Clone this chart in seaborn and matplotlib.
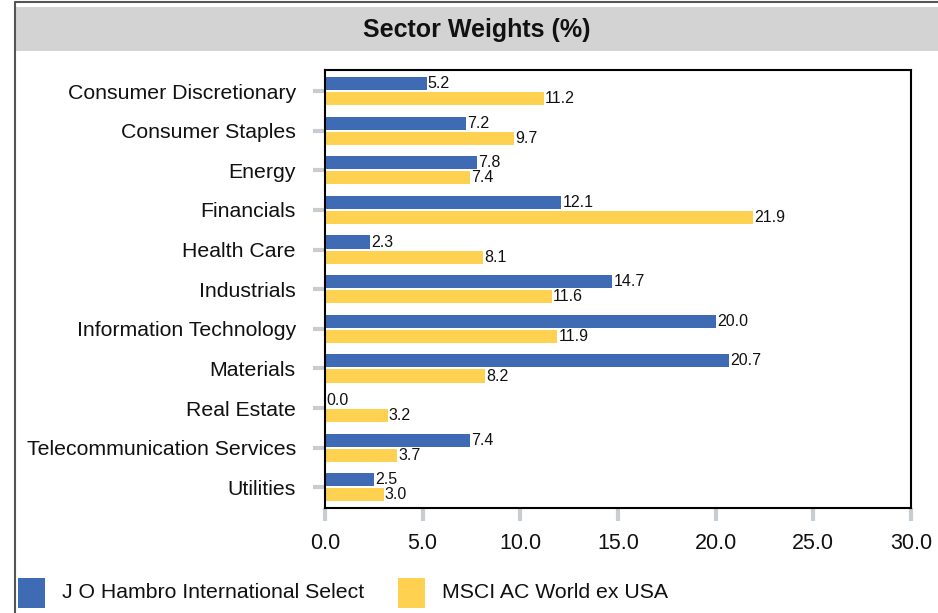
import matplotlib
matplotlib.use("Agg")
import matplotlib.pyplot as plt
import seaborn as sns
import pandas as pd
from matplotlib.patches import Rectangle
from matplotlib.lines import Line2D

sectors = ["Consumer Discretionary", "Consumer Staples", "Energy", "Financials",
           "Health Care", "Industrials", "Information Technology", "Materials",
           "Real Estate", "Telecommunication Services", "Utilities"]
fund = [5.2, 7.2, 7.8, 12.1, 2.3, 14.7, 20.0, 20.7, 0.0, 7.4, 2.5]
bench = [11.2, 9.7, 7.4, 21.9, 8.1, 11.6, 11.9, 8.2, 3.2, 3.7, 3.0]
series = ["J O Hambro International Select", "MSCI AC World ex USA"]
xticks = [0, 5, 10, 15, 20, 25, 30]
colors = ["#3F6BB5", "#FFD151"]

df = pd.DataFrame({
    "Sector": sectors * 2,
    "Weight": fund + bench,
    "Series": [series[0]] * len(sectors) + [series[1]] * len(sectors),
})

sns.set_theme(style="white")
plt.rcParams["font.family"] = ["Liberation Sans", "DejaVu Sans"]

W, H = 938, 613
fig = plt.figure(figsize=(W / 100, H / 100), dpi=100)

# Title band and frame
fig.patches.append(Rectangle((15 / W, 1 - 51 / H), 1 - 15 / W, 44 / H,
                             transform=fig.transFigure, facecolor="#D3D3D3",
                             edgecolor="none", zorder=0))
fig.lines.append(Line2D([15 / W, 15 / W], [0, 1 - 2 / H], transform=fig.transFigure,
                        color="#555555", lw=1.5))
fig.lines.append(Line2D([15 / W, 1], [1 - 2 / H, 1 - 2 / H], transform=fig.transFigure,
                        color="#555555", lw=1.5))
fig.text((15 + W) / 2 / W, 1 - 30 / H, "Sector Weights (%)", ha="center", va="center",
         fontsize=18, fontweight="bold", color="#111111")

ax = fig.add_axes([325 / W, 1 - 508 / H, (911 - 325) / W, (508 - 70) / H])
sns.barplot(data=df, y="Sector", x="Weight", hue="Series", orient="h",
            palette=colors, width=0.76, dodge=True, ax=ax, legend=False,
            saturation=1, linewidth=0, edgecolor="none")

for cont in ax.containers:
    for bar in cont:
        h = bar.get_height()
        bar.set_y(bar.get_y() + 0.025)
        bar.set_height(h - 0.05)
        w = bar.get_width()
        ax.text(w + 0.06, bar.get_y() + bar.get_height() / 2, f"{w:.1f}",
                ha="left", va="center", fontsize=11.5, color="#111111")

ax.set_xlim(0, 30)
ax.set_ylim(10.52, -0.53)
ax.set_xticks(xticks)
ax.set_xticklabels([f"{t:.1f}" for t in xticks], fontsize=15.5)
ax.set_yticks(range(len(sectors)))
ax.set_yticklabels(sectors, fontsize=15.3)
ax.set_xlabel("")
ax.set_ylabel("")
ax.tick_params(axis="x", length=9, width=3, color="#C8CDD2", pad=9, labelcolor="#111111")
ax.tick_params(axis="y", length=8.5, width=3, color="#C8CDD2", pad=12.5, labelcolor="#111111")
ax.tick_params(bottom=True, left=True)
for s in ax.spines.values():
    s.set_visible(True)
    s.set_color("black")
    s.set_linewidth(1.5)

# Legend
for i, (name, col) in enumerate(zip(series, colors)):
    x0 = [18, 398][i]
    fig.patches.append(Rectangle((x0 / W, 1 - 608 / H), 27 / W, 30 / H,
                                 transform=fig.transFigure, facecolor=col,
                                 edgecolor="none"))
    fig.text((x0 + 44) / W, 1 - 593 / H, name, ha="left", va="center",
             fontsize=15.3, color="#111111")

fig.savefig("out.png", dpi=100)
